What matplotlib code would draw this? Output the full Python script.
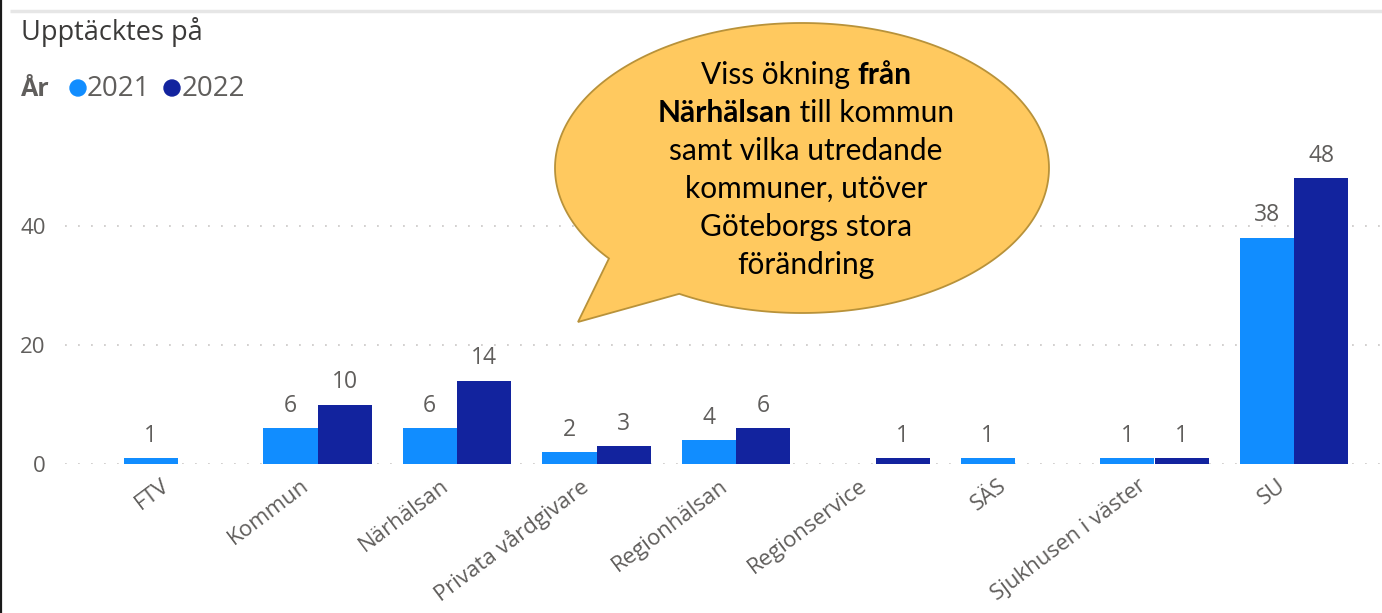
import numpy as np
import matplotlib
matplotlib.use("Agg")
import matplotlib.pyplot as plt
from matplotlib.path import Path
from matplotlib.patches import PathPatch, Circle
from matplotlib.transforms import ScaledTranslation

# ---- data ----
categories = ["FTV", "Kommun", "Närhälsan", "Privata vårdgivare", "Regionhälsan",
              "Regionservice", "SÄS", "Sjukhusen i väster", "SU"]
values_2021 = [1, 6, 6, 2, 4, 0, 1, 1, 38]
values_2022 = [0, 10, 14, 3, 6, 1, 0, 1, 48]
series_labels = ["2021", "2022"]
yticks = [0, 20, 40]
title = "Upptäcktes på"
legend_title = "År"
callout_lines = [
    [("Viss ökning ", "normal"), ("från", "bold")],
    [("Närhälsan", "bold"), (" till kommun", "normal")],
    [("samt vilka utredande", "normal")],
    [("kommuner, utöver", "normal")],
    [("Göteborgs stora", "normal")],
    [("förändring", "normal")],
]

C2021 = "#118DFF"
C2022 = "#12239E"
GRAY = "#605E5C"
FONT = ["Open Sans", "DejaVu Sans"]
plt.rcParams["font.family"] = FONT

W, H = 1382, 613
fig = plt.figure(figsize=(W / 100, H / 100), dpi=100)
fig.patch.set_facecolor("white")

# main axes (pixel layout)
ax_left, ax_right, ax_bottom = 65, 1382, 464
ymax = 52
px_per_unit = (464 - 226) / 40
ax_top = ax_bottom - ymax * px_per_unit
ax = fig.add_axes([ax_left / W, (H - ax_bottom) / H, (ax_right - ax_left) / W,
                   (ax_bottom - ax_top) / H])
cat_px = 139.5
xmin = -(178 - ax_left) / cat_px
xmax = xmin + (ax_right - ax_left) / cat_px
ax.set_xlim(xmin, xmax)
ax.set_ylim(0, ymax)

x = np.arange(len(categories))
bw = 0.39
b1 = ax.bar(x - bw / 2, values_2021, bw, color=C2021, zorder=3)
b2 = ax.bar(x + bw / 2, values_2022, bw, color=C2022, zorder=3)
for bars, vals in ((b1, values_2021), (b2, values_2022)):
    for rect, v in zip(bars, vals):
        if v:
            ax.annotate(str(v), (rect.get_x() + rect.get_width() / 2, v),
                        xytext=(0, 7.5), textcoords="offset points",
                        ha="center", va="bottom", fontsize=16.5, color=GRAY)

ax.set_yticks(yticks)
ax.set_yticklabels([str(t) for t in yticks], fontsize=16, color=GRAY)
ax.yaxis.grid(True, linestyle=(0, (1, 6.2)), linewidth=1.3, color="#CFCDCB", zorder=0)
ax.tick_params(axis="y", length=0, pad=14)
ax.set_xticks(x)
ax.set_xticklabels(categories, rotation=37, ha="right", va="top",
                   rotation_mode="anchor", fontsize=16, color=GRAY)
ax.tick_params(axis="x", length=0, pad=8)
shift = ScaledTranslation(-0.17, 0, fig.dpi_scale_trans)
for lab in ax.get_xticklabels():
    lab.set_transform(lab.get_transform() + shift)
for s in ax.spines.values():
    s.set_visible(False)
ax.set_facecolor("none")

# overlay in pixel coordinates for decorations
ov = fig.add_axes([0, 0, 1, 1], zorder=10)
ov.set_xlim(0, W)
ov.set_ylim(H, 0)
ov.axis("off")
ov.patch.set_alpha(0)

# frame lines
ov.plot([0.8, 0.8], [0, H], color="#1a1a1a", lw=1.6, solid_capstyle="butt")
ov.plot([10, W], [11, 11], color="#E6E6E6", lw=2.5, solid_capstyle="butt")

# title & legend
ov.text(21, 32, title, fontsize=19.5, color="#3b3a39", va="center", ha="left")
ov.text(21, 89, legend_title, fontsize=18, color=GRAY, fontweight="bold",
        va="center", ha="left")
ov.add_patch(Circle((78, 88), 8, color=C2021))
ov.text(87, 89, series_labels[0], fontsize=20, color=GRAY, va="center", ha="left")
ov.add_patch(Circle((172, 88), 8, color=C2022))
ov.text(182, 89, series_labels[1], fontsize=20, color=GRAY, va="center", ha="left")

# speech bubble
cx, cy, a, b = 802, 168, 247, 145
t1, t2 = np.deg2rad(141.4), np.deg2rad(119.8 + 360)
ts = np.linspace(t1, t2, 300)
pts = np.column_stack([cx + a * np.cos(ts), cy + b * np.sin(ts)])
pts = np.vstack([pts, [[578, 322]], pts[:1]])
codes = [Path.MOVETO] + [Path.LINETO] * (len(pts) - 2) + [Path.CLOSEPOLY]
ov.add_patch(PathPatch(Path(pts, codes), facecolor="#FFC95F", edgecolor="#B8923A",
                       lw=1.3, zorder=5))

renderer = fig.canvas.get_renderer()
cfont = ["Lato", "DejaVu Sans"]
csize = 21.5
line_y = [75, 112.5, 150.5, 189, 227, 265]
for segs, yy in zip(callout_lines, line_y):
    widths = []
    for txt, wt in segs:
        t = ov.text(0, 0, txt, fontsize=csize, fontweight=wt, family=cfont)
        widths.append(t.get_window_extent(renderer).width)
        t.remove()
    total = sum(widths)
    xx = 806 - total / 2
    for (txt, wt), w in zip(segs, widths):
        ov.text(xx, yy, txt, fontsize=csize, fontweight=wt, family=cfont,
                color="black", va="center", ha="left", zorder=6)
        xx += w

fig.savefig("out.png", dpi=100, facecolor="white")
